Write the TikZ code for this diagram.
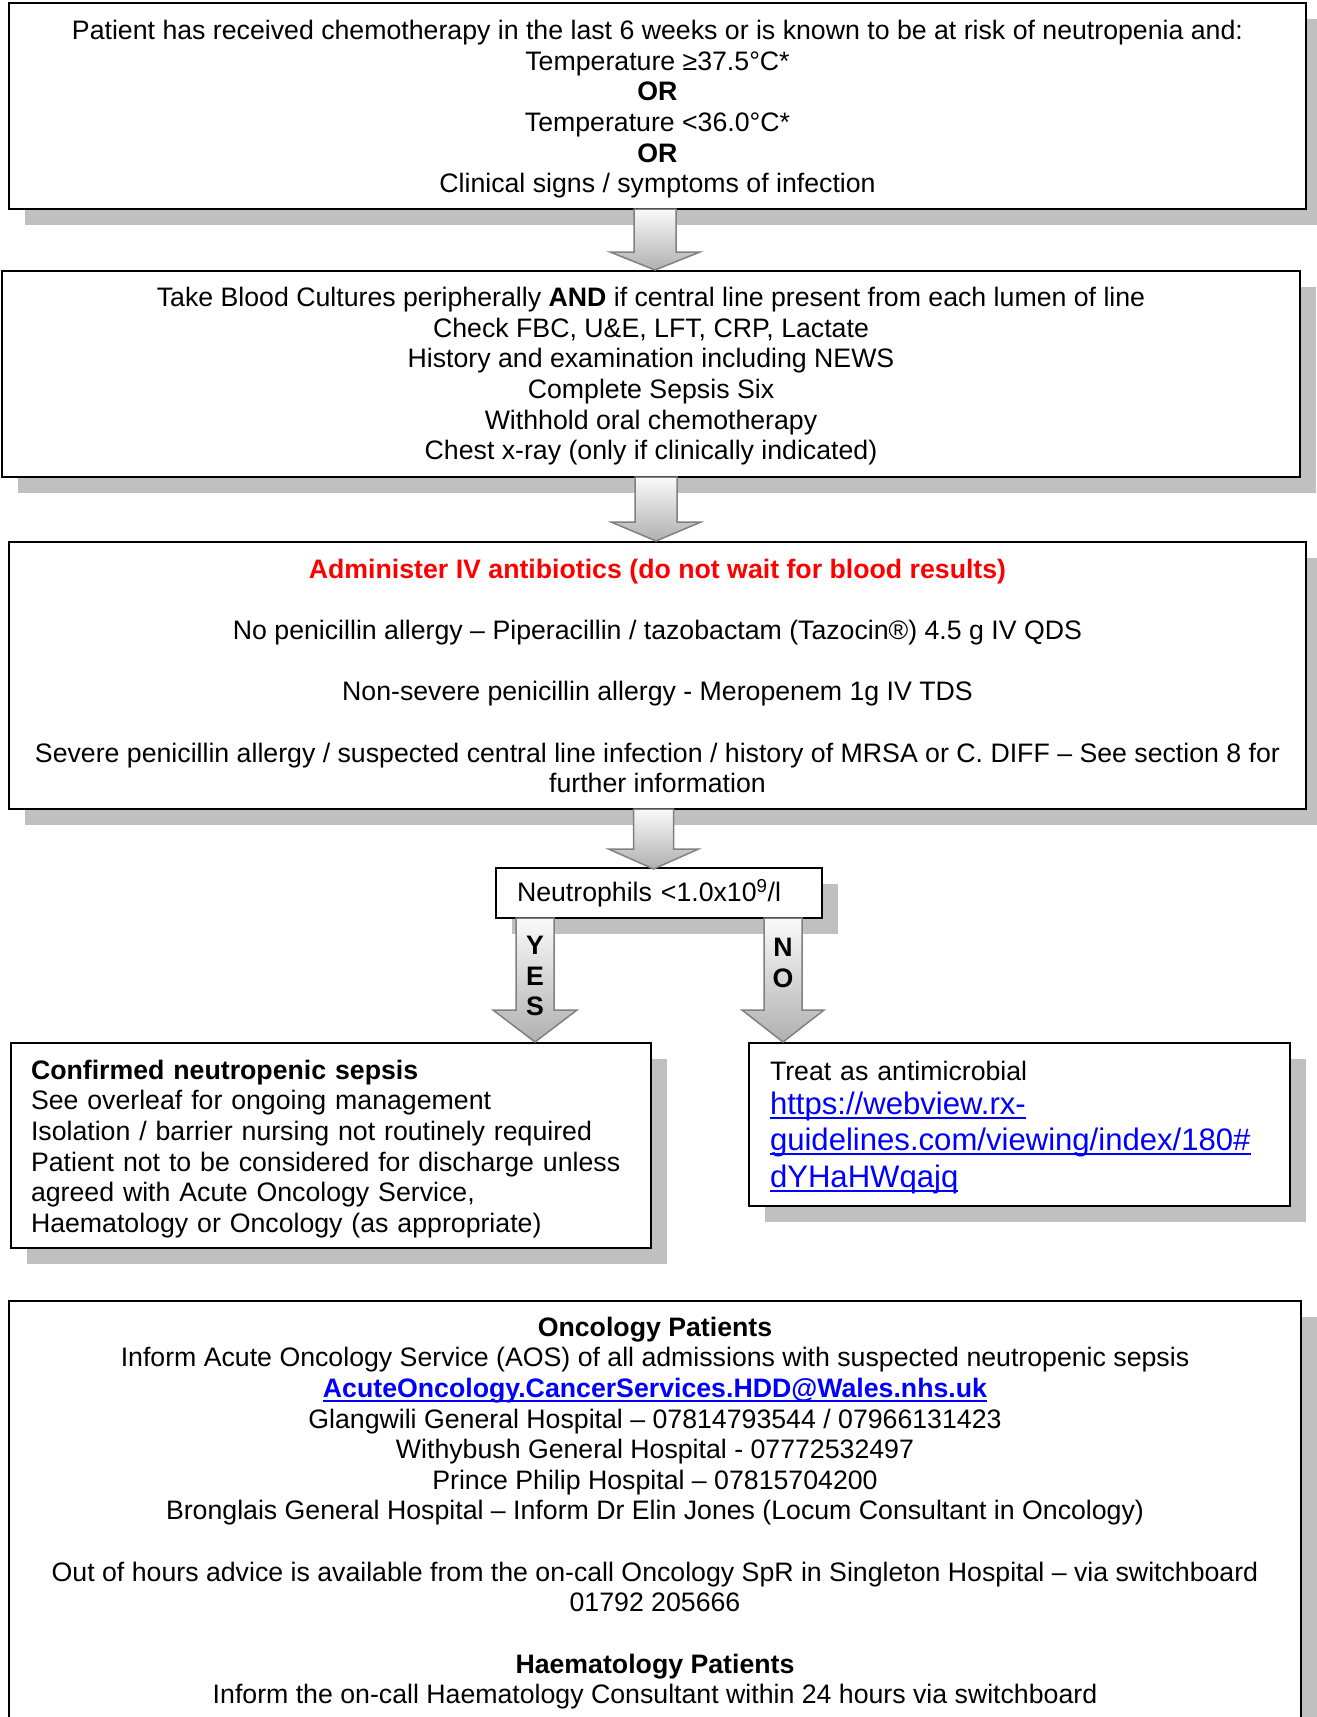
\documentclass[tikz,border=0pt]{standalone}
\usepackage{fontspec}
\setmainfont{Liberation Sans}
\usetikzlibrary{shadows,calc}
\definecolor{shadowgray}{RGB}{192,192,192}
\definecolor{linkblue}{RGB}{0,0,255}
\definecolor{alertred}{RGB}{255,0,0}
\newcommand\basefont{\fontsize{26.7pt}{30.65pt}\selectfont}
\newcommand\linkfont{\fontsize{31.1pt}{36.4pt}\selectfont}
\newcommand\tstrut[1]{\rule{0pt}{#1}}
\newcommand\ulink[1]{\leavevmode\setbox0\hbox{#1}\rlap{\rule[-4.5pt]{\wd0}{2.2pt}}\box0}
\newcommand\blockarrow[5]{%
  \fill[arrowshadow] let \p1=(#1), \p2=(#2) in
    (\x1-#3pt,\y1) -- (\x1-#3pt,\y2+#5pt) -- (\x1-#4pt,\y2+#5pt) -- (\x2,\y2) --
    (\x1+#4pt,\y2+#5pt) -- (\x1+#3pt,\y2+#5pt) -- (\x1+#3pt,\y1) -- cycle;
  \path[blockarrowstyle] let \p1=(#1), \p2=(#2) in
    (\x1-#3pt,\y1) -- (\x1-#3pt,\y2+#5pt) -- (\x1-#4pt,\y2+#5pt) -- (\x2,\y2) --
    (\x1+#4pt,\y2+#5pt) -- (\x1+#3pt,\y2+#5pt) -- (\x1+#3pt,\y1) -- cycle;}
\tikzset{
  box/.style={draw=black, line width=1.6pt, fill=white, rectangle, inner sep=0pt,
    font=\basefont, text=black,
    drop shadow={shadow xshift=16pt, shadow yshift=-16pt, fill=shadowgray, opacity=1, draw=none}},
  plain/.style={inner sep=0pt, font=\basefont, text=black},
  blockarrowstyle/.style={draw=gray, line width=1.5pt, line join=miter, top color=gray!4, bottom color=gray!62},
  arrowshadow/.style={fill=gray!28, yshift=-6pt},
  yesno/.style={inner sep=0pt, font=\basefont\bfseries, align=center, text=black}
}
\begin{document}
\begin{tikzpicture}[x=1pt,y=-1pt]
\clip (0,0) rectangle (1317,1717);
\fill[white] (0,0) rectangle (1317,1717);

% Box 1
\node[box, minimum width=1297pt, minimum height=206pt, align=center] (b1) at (657.5,106)
{\tstrut{26pt}Patient has received chemotherapy in the last 6 weeks or is known to be at risk of neutropenia and:\\
Temperature ≥37.5°C*\\
\textbf{OR}\\
Temperature <36.0°C*\\
\textbf{OR}\\
Clinical signs / symptoms of infection};

% Box 2
\node[box, minimum width=1298pt, minimum height=206pt, align=center] (b2) at (651,374)
{\tstrut{24pt}Take Blood Cultures peripherally \textbf{AND} if central line present from each lumen of line\\
Check FBC, U\&E, LFT, CRP, Lactate\\
History and examination including NEWS\\
Complete Sepsis Six\\
Withhold oral chemotherapy\\
Chest x-ray (only if clinically indicated)};

% Box 3
\node[box, minimum width=1297pt, minimum height=267pt, align=center] (b3) at (657.5,675.5)
{\tstrut{20pt}{\color{alertred}\bfseries Administer IV antibiotics (do not wait for blood results)}\\[30.65pt]
No penicillin allergy – Piperacillin / tazobactam (Tazocin®) 4.5 g IV QDS\\[30.65pt]
Non-severe penicillin allergy - Meropenem 1g IV TDS\\[30.65pt]
Severe penicillin allergy / suspected central line infection / history of MRSA or C. DIFF – See section 8 for\\
further information};

% Neutrophils
\node[box, minimum height=50pt, text width=284pt, inner xsep=21pt, align=left] (neut) at (659,893)
{\tstrut{21pt}Neutrophils <1.0x10\textsuperscript{9}/l};

% Confirmed
\node[box, minimum height=205pt, text width=600pt, inner xsep=20pt, align=left] (conf) at (331,1145.5)
{\tstrut{26pt}\textbf{Confirmed neutropenic sepsis}\\
See overleaf for ongoing management\\
Isolation / barrier nursing not routinely required\\
Patient not to be considered for discharge unless\\
agreed with Acute Oncology Service,\\
Haematology or Oncology (as appropriate)};

% Treat
\node[box, minimum height=163pt, text width=499pt, inner xsep=21pt, align=left] (treat) at (1019.5,1124.5)
{\tstrut{26pt}Treat as antimicrobial\\[3.3pt]
\leavevmode{\linkfont\color{linkblue}\ulink{https://webview.rx-}}\\[5.5pt]
\leavevmode{\linkfont\color{linkblue}\ulink{guidelines.com/viewing/index/180\#}}\\[6.6pt]
\leavevmode{\linkfont\color{linkblue}\ulink{dYHaHWqajq}}};

% Bottom box
\node[box, minimum width=1292pt, minimum height=500pt, anchor=north] (b6) at (655,1300) {};
\node[plain, align=center, anchor=north] (b6t) at (655,1316.5)
{\textbf{Oncology Patients}\\
Inform Acute Oncology Service (AOS) of all admissions with suspected neutropenic sepsis\\
\leavevmode{\color{linkblue}\bfseries\ulink{AcuteOncology.CancerServices.HDD@Wales.nhs.uk}}\\
Glangwili General Hospital – 07814793544 / 07966131423\\
Withybush General Hospital - 07772532497\\
Prince Philip Hospital – 07815704200\\
Bronglais General Hospital – Inform Dr Elin Jones (Locum Consultant in Oncology)\\[30.65pt]
Out of hours advice is available from the on-call Oncology SpR in Singleton Hospital – via switchboard\\
01792 205666\\[30.65pt]
\textbf{Haematology Patients}\\
Inform the on-call Haematology Consultant within 24 hours via switchboard};

% Arrow coordinates
\coordinate (a1s) at (655,209);   \coordinate (a1e) at (655,270);
\coordinate (a2s) at (656,477);   \coordinate (a2e) at (656,541);
\coordinate (a3s) at (653.5,809); \coordinate (a3e) at (653.5,869);
\coordinate (ys) at (535,918);    \coordinate (ye) at (535,1042);
\coordinate (ns) at (783,918);    \coordinate (ne) at (783,1042);

\blockarrow{a1s}{a1e}{21}{45}{18}
\blockarrow{a2s}{a2e}{21}{45}{19}
\blockarrow{a3s}{a3e}{20}{45}{20}
\blockarrow{ys}{ye}{19}{42}{32}
\blockarrow{ns}{ne}{19}{41}{32}

\node[yesno] (yes) at (535,976) {Y\\E\\S};
\node[yesno] (no) at (783,963) {N\\O};
\end{tikzpicture}
\end{document}
